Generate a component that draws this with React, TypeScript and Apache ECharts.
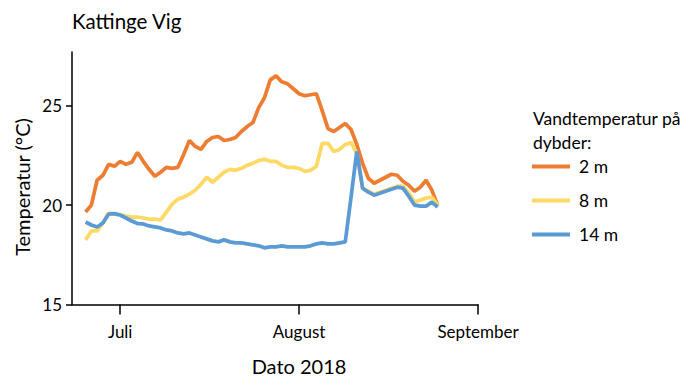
import React, { useEffect, useRef } from "react";
import * as echarts from "echarts";

const dates = [
  "2018-06-25", "2018-06-26", "2018-06-27", "2018-06-28", "2018-06-29", "2018-06-30",
  "2018-07-01", "2018-07-02", "2018-07-03", "2018-07-04", "2018-07-05", "2018-07-06",
  "2018-07-07", "2018-07-08", "2018-07-09", "2018-07-10", "2018-07-11", "2018-07-12",
  "2018-07-13", "2018-07-14", "2018-07-15", "2018-07-16", "2018-07-17", "2018-07-18",
  "2018-07-19", "2018-07-20", "2018-07-21", "2018-07-22", "2018-07-23", "2018-07-24",
  "2018-07-25", "2018-07-26", "2018-07-27", "2018-07-28", "2018-07-29", "2018-07-30",
  "2018-07-31", "2018-08-01", "2018-08-02", "2018-08-03", "2018-08-04", "2018-08-05",
  "2018-08-06", "2018-08-07", "2018-08-08", "2018-08-09", "2018-08-10", "2018-08-11",
  "2018-08-12", "2018-08-13", "2018-08-14", "2018-08-15", "2018-08-16", "2018-08-17",
  "2018-08-18", "2018-08-19", "2018-08-20", "2018-08-21", "2018-08-22", "2018-08-23",
  "2018-08-24", "2018-08-25",
];

const temp2m = [
  19.65, 20.0, 21.25, 21.5, 22.05, 21.95,
  22.2, 22.05, 22.15, 22.65, 22.2, 21.8, 21.45, 21.65, 21.9, 21.85,
  21.9, 22.55, 23.25, 22.95, 22.8, 23.2, 23.4, 23.45, 23.25, 23.3,
  23.4, 23.7, 23.95, 24.15, 24.9, 25.4, 26.3, 26.5, 26.2, 26.1, 25.85,
  25.6, 25.5, 25.55, 25.6, 24.75, 23.85, 23.7, 23.9, 24.1, 23.8,
  23.05, 22.1, 21.35, 21.1, 21.25, 21.4, 21.55, 21.5, 21.2, 21.0,
  20.7, 20.9, 21.25, 20.75, 20.0,
];

const temp8m = [
  18.25, 18.7, 18.7, 19.1, 19.6, 19.55,
  19.5, 19.45, 19.4, 19.4, 19.35, 19.3, 19.3, 19.25, 19.65, 20.05,
  20.3, 20.4, 20.55, 20.75, 21.05, 21.4, 21.15, 21.4, 21.65, 21.8,
  21.75, 21.85, 22.0, 22.1, 22.25, 22.3, 22.2, 22.2, 22.0, 21.9, 21.9,
  21.85, 21.7, 21.75, 21.95, 23.1, 23.1, 22.7, 22.8, 23.05, 23.15,
  22.6, 20.85, 20.7, 20.55, 20.65, 20.75, 20.85, 20.95, 20.95, 20.6,
  20.15, 20.25, 20.35, 20.4, 20.0,
];

const temp14m = [
  19.15, 19.0, 18.9, 19.1, 19.55, 19.57,
  19.5, 19.35, 19.2, 19.07, 19.05, 18.95, 18.9, 18.85, 18.75, 18.7,
  18.6, 18.55, 18.6, 18.5, 18.4, 18.3, 18.2, 18.15, 18.25, 18.15,
  18.1, 18.1, 18.05, 18.0, 17.95, 17.85, 17.9, 17.9, 17.95, 17.9, 17.9,
  17.9, 17.9, 17.95, 18.05, 18.1, 18.05, 18.05, 18.1, 18.15, 20.4,
  22.7, 20.85, 20.65, 20.5, 20.6, 20.7, 20.8, 20.9, 20.85, 20.45,
  20.0, 19.95, 19.95, 20.15, 19.9,
];

const seriesNames = ["2 m", "8 m", "14 m"];
const monthTicks = ["2018-07-01", "2018-08-01", "2018-09-01"];
const monthLabels = ["Juli", "August", "September"];
const yTicks = [15, 20, 25];

const DAY = 86400000;
const ts = (d: string) => new Date(d + "T00:00:00Z").getTime();

export default function App() {
  const ref = useRef<HTMLDivElement>(null);
  useEffect(() => {
    if (!ref.current) return;
    const chart = echarts.init(ref.current, undefined, { renderer: "svg" });
    const font = "Lato, 'Open Sans', sans-serif";
    const tickTs = monthTicks.map(ts);
    const xMin = ts("2018-07-01") - 8.35 * DAY;
    const xMax = ts("2018-09-01");
    const mk = (vals: number[]) => dates.map((d, i) => [ts(d), vals[i]]);
    const colors = ["#ED7D31", "#FFD966", "#5B9BD5"];
    const allVals = [temp2m, temp8m, temp14m];
    chart.setOption({
      animation: false,
      grid: { left: 72, right: 222, top: 52, bottom: 87.5 },
      xAxis: {
        type: "value",
        min: xMin,
        max: xMax,
        splitLine: { show: false },
        axisLine: { show: true, lineStyle: { color: "#000", width: 1.5 } },
        axisTick: { show: true, length: 10, customValues: tickTs, lineStyle: { color: "#000", width: 1.5 } },
        axisLabel: {
          customValues: tickTs,
          margin: 18,
          color: "#000",
          fontSize: 17,
          fontFamily: font,
          formatter: (v: number) => {
            const i = tickTs.indexOf(v);
            return i >= 0 ? monthLabels[i] : "";
          },
        },
      },
      yAxis: {
        type: "value",
        min: 15,
        max: 27.7,
        splitLine: { show: false },
        axisLine: { show: true, lineStyle: { color: "#000", width: 1.5 } },
        axisTick: { show: true, length: 6, customValues: yTicks, lineStyle: { color: "#000", width: 1.5 } },
        axisLabel: { customValues: yTicks, margin: 10, color: "#000", fontSize: 17, fontFamily: font },
      },
      legend: {
        orient: "vertical",
        left: 532,
        top: 156,
        padding: 0,
        icon: "rect",
        itemWidth: 38,
        itemHeight: 4,
        itemGap: 13,
        data: seriesNames,
        textStyle: { color: "#000", fontSize: 17.5, fontFamily: font, padding: [0, 0, 0, 4], lineHeight: 21 },
      },
      graphic: [
        { type: "text", left: 72, top: 10, style: { text: "Kattinge Vig", fontSize: 20.5, fontFamily: font, fill: "#000" } },
        {
          type: "text",
          x: 22,
          y: 187,
          rotation: Math.PI / 2,
          style: { text: "Temperatur (°C)", fontSize: 20, fontFamily: font, fill: "#000", align: "center", verticalAlign: "middle" },
        },
        {
          type: "text",
          x: 299,
          y: 366,
          style: { text: "Dato 2018", fontSize: 20, fontFamily: font, fill: "#000", align: "center", verticalAlign: "middle" },
        },
        {
          type: "text",
          x: 533,
          y: 118,
          style: { text: "Vandtemperatur på", fontSize: 17.5, fontFamily: font, fill: "#000", verticalAlign: "middle" },
        },
        {
          type: "text",
          x: 533,
          y: 142,
          style: { text: "dybder:", fontSize: 17.5, fontFamily: font, fill: "#000", verticalAlign: "middle" },
        },
      ],
      series: seriesNames.map((name, k) => ({
        name,
        type: "line",
        data: mk(allVals[k]),
        showSymbol: false,
        symbol: "none",
        color: colors[k],
        lineStyle: { width: 3.75, color: colors[k] },
      })),
    });
    return () => chart.dispose();
  }, []);
  return <div ref={ref} style={{ position: "absolute", left: 0, top: 0, width: 700, height: 392 }} />;
}
